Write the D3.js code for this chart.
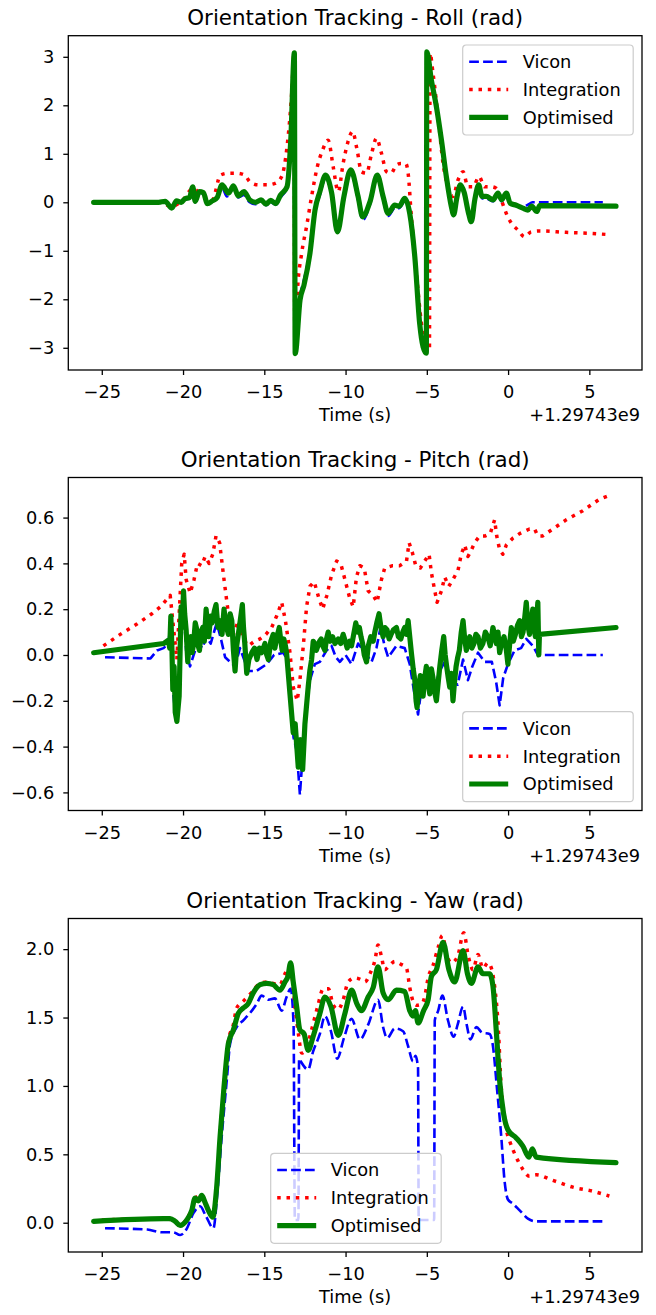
<!DOCTYPE html>
<html>
<head>
<meta charset="utf-8">
<script src="https://cdn.jsdelivr.net/npm/d3@7"></script>
<style>
  html, body { margin: 0; padding: 0; background: #ffffff; }
  svg { display: block; font-family: "DejaVu Sans", sans-serif; }
</style>
</head>
<body>
<script>
// ---- Data: [time offset (s), angle (rad)] ----
const seriesNames = ["Vicon", "Integration", "Optimised"];
const titles = [
  "Orientation Tracking - Roll (rad)",
  "Orientation Tracking - Pitch (rad)",
  "Orientation Tracking - Yaw (rad)"
];
const xLabel = "Time (s)";
const timeOffsetLabel = "+1.29743e9";

const xTicks = [-25, -20, -15, -10, -5, 0, 5];
const rollTicks = [-3, -2, -1, 0, 1, 2, 3];
const pitchTicks = [-0.6, -0.4, -0.2, 0.0, 0.2, 0.4, 0.6];
const yawTicks = [0.0, 0.5, 1.0, 1.5, 2.0];

const rollVicon = [[-24.9,0.0],[-21.8,0.0],[-21.4,0.02],[-21.0,0.0],[-20.7,-0.1],[-20.4,0.02],[-20.0,0.05],[-19.6,0.08],[-19.4,0.28],[-19.25,0.0],[-19.0,0.2],[-18.75,0.17],[-18.5,-0.04],[-18.2,0.02],[-17.9,0.08],[-17.6,0.3],[-17.3,0.12],[-16.9,0.28],[-16.6,0.1],[-16.25,0.15],[-15.9,0.0],[-15.55,-0.04],[-15.2,0.02],[-14.9,-0.06],[-14.6,0.0],[-14.3,-0.05],[-14.0,0.1],[-13.6,0.3],[-13.37,1.25],[-13.15,3.05],[-13.1,-3.1],[-12.8,-1.95],[-12.56,-1.6],[-12.19,-1.0],[-11.88,-0.2],[-11.58,0.15],[-11.23,0.5],[-10.86,0.15],[-10.5,-0.65],[-10.1,0.05],[-9.68,0.6],[-9.23,0.05],[-8.95,-0.37],[-8.5,-0.05],[-8.05,0.5],[-7.69,0.05],[-7.38,-0.28],[-6.97,-0.12],[-6.7,-0.12],[-6.36,0.02],[-6.05,-0.28],[-5.74,-1.15],[-5.44,-2.52],[-5.23,-3.0],[-5.03,-3.12],[-5.0,3.08],[-4.72,2.45],[-4.41,1.9],[-4.1,1.2],[-3.8,0.45],[-3.49,-0.12],[-3.35,-0.28],[-3.15,0.05],[-2.94,0.3],[-2.7,0.15],[-2.45,-0.22],[-2.26,-0.42],[-2.05,0.0],[-1.81,0.3],[-1.6,0.08],[-1.34,0.08],[-0.93,0.02],[-0.62,0.15],[-0.4,0.02],[-0.11,0.15],[0.13,-0.03],[0.5,-0.05],[0.91,-0.1],[1.22,-0.05],[1.5,0.0],[5.83,0.0]];

const rollIntegration = [[-25.0,0.0],[-21.5,0.0],[-20.7,-0.08],[-20.0,0.05],[-19.4,0.28],[-18.8,0.15],[-18.2,0.05],[-17.7,0.56],[-17.2,0.6],[-16.7,0.6],[-16.2,0.56],[-15.88,0.42],[-15.37,0.36],[-14.85,0.36],[-14.34,0.39],[-13.93,0.53],[-13.6,1.15],[-13.3,2.32],[-13.17,3.07],[-13.12,-3.1],[-12.97,-1.88],[-12.7,-1.05],[-12.4,-0.5],[-12.09,0.12],[-11.74,0.73],[-11.41,1.08],[-11.07,1.28],[-10.76,0.73],[-10.45,0.22],[-10.15,0.8],[-9.85,1.25],[-9.57,1.46],[-9.3,1.1],[-9.02,0.63],[-8.71,0.6],[-8.4,1.0],[-8.1,1.32],[-7.79,1.01],[-7.48,0.63],[-7.2,0.6],[-6.87,0.77],[-6.6,0.8],[-6.3,0.8],[-6.15,0.6],[-5.95,-0.3],[-5.64,-1.46],[-5.33,-2.5],[-5.03,-3.05],[-4.84,-3.08],[-4.8,3.07],[-4.62,2.66],[-4.31,1.77],[-4.0,0.8],[-3.7,0.32],[-3.39,0.12],[-3.08,0.46],[-2.77,0.63],[-2.47,0.32],[-2.15,0.32],[-1.79,0.53],[-1.44,0.32],[-1.05,0.32],[-0.73,0.29],[-0.42,0.05],[-0.11,-0.23],[0.2,-0.43],[0.6,-0.57],[1.01,-0.71],[1.42,-0.61],[1.94,-0.59],[3.57,-0.62],[5.0,-0.64],[6.34,-0.67]];

const rollOptimised = [[-25.5,0.0],[-21.5,0.0],[-21.1,0.02],[-20.7,-0.12],[-20.4,0.03],[-20.1,0.0],[-19.9,0.07],[-19.6,0.1],[-19.4,0.32],[-19.25,0.02],[-19.0,0.22],[-18.75,0.2],[-18.5,-0.03],[-18.2,0.03],[-17.9,0.1],[-17.6,0.36],[-17.2,0.19],[-16.9,0.34],[-16.6,0.13],[-16.25,0.22],[-15.9,0.05],[-15.55,0.0],[-15.2,0.05],[-14.9,-0.04],[-14.6,0.04],[-14.3,-0.03],[-14.0,0.15],[-13.6,0.32],[-13.37,1.29],[-13.15,3.08],[-13.1,-3.12],[-12.8,-2.01],[-12.56,-1.71],[-12.19,-1.05],[-11.88,-0.16],[-11.58,0.22],[-11.23,0.56],[-10.86,0.2],[-10.5,-0.61],[-10.1,0.12],[-9.68,0.67],[-9.23,0.12],[-8.95,-0.3],[-8.5,0.01],[-8.05,0.56],[-7.69,0.12],[-7.38,-0.23],[-6.97,-0.06],[-6.7,-0.08],[-6.36,0.08],[-6.05,-0.23],[-5.74,-1.12],[-5.44,-2.5],[-5.23,-2.98],[-5.03,-3.11],[-5.0,3.1],[-4.72,2.52],[-4.41,1.97],[-4.1,1.28],[-3.8,0.53],[-3.49,-0.09],[-3.35,-0.26],[-3.15,0.1],[-2.94,0.36],[-2.7,0.2],[-2.45,-0.2],[-2.26,-0.4],[-2.05,0.05],[-1.81,0.36],[-1.6,0.12],[-1.34,0.12],[-0.93,0.05],[-0.62,0.19],[-0.4,0.05],[-0.11,0.19],[0.13,-0.02],[0.5,-0.06],[0.91,-0.12],[1.22,-0.16],[1.45,-0.08],[1.77,-0.19],[1.94,-0.07],[6.64,-0.08]];

const pitchVicon = [[-24.8,-0.01],[-22.0,-0.015],[-21.6,0.02],[-21.2,0.03],[-20.9,0.05],[-20.75,0.15],[-20.63,-0.15],[-20.48,-0.25],[-20.38,-0.28],[-20.24,-0.15],[-20.12,0.18],[-19.97,0.22],[-19.81,0.02],[-19.57,-0.05],[-19.35,0.0],[-19.1,0.05],[-18.8,0.03],[-18.58,0.08],[-18.3,0.05],[-17.93,0.14],[-17.7,0.08],[-17.41,-0.01],[-17.1,-0.03],[-16.8,-0.05],[-16.5,0.03],[-15.98,-0.07],[-15.5,-0.07],[-14.85,-0.04],[-14.4,0.0],[-13.83,0.01],[-13.6,-0.02],[-13.4,-0.18],[-13.2,-0.36],[-13.0,-0.42],[-12.81,-0.61],[-12.65,-0.45],[-12.45,-0.25],[-12.19,-0.11],[-11.89,-0.04],[-11.58,-0.03],[-11.17,0.02],[-10.86,0.04],[-10.6,-0.01],[-10.35,-0.03],[-10.0,0.0],[-9.63,-0.04],[-9.23,0.05],[-8.9,0.02],[-8.4,-0.03],[-8.1,0.03],[-7.85,0.12],[-7.6,0.04],[-7.38,-0.01],[-6.87,0.04],[-6.36,0.03],[-6.05,-0.04],[-5.74,-0.18],[-5.54,-0.26],[-5.3,-0.13],[-4.92,-0.14],[-4.6,-0.16],[-4.21,-0.07],[-3.9,-0.03],[-3.39,-0.12],[-3.1,-0.13],[-2.77,-0.02],[-2.47,-0.11],[-2.2,-0.05],[-1.85,0.01],[-1.44,-0.03],[-1.0,-0.03],[-0.73,-0.12],[-0.52,-0.22],[-0.3,-0.1],[-0.01,-0.04],[0.4,0.02],[0.8,0.03],[1.12,0.07],[1.52,0.04],[1.83,0.0],[5.83,0.0]];

const pitchIntegration = [[-24.9,0.04],[-23.86,0.09],[-22.84,0.135],[-21.92,0.18],[-21.4,0.21],[-20.79,0.26],[-20.59,0.12],[-20.38,-0.02],[-20.08,0.4],[-19.93,0.44],[-19.81,0.33],[-19.56,0.27],[-19.32,0.33],[-19.11,0.4],[-18.85,0.39],[-18.64,0.43],[-18.4,0.4],[-18.17,0.44],[-17.97,0.52],[-17.75,0.49],[-17.48,0.33],[-17.21,0.18],[-16.9,0.09],[-16.6,0.15],[-16.3,0.07],[-15.98,0.04],[-15.6,0.06],[-15.26,0.07],[-14.9,0.09],[-14.55,0.12],[-14.24,0.17],[-13.93,0.23],[-13.7,0.15],[-13.42,0.01],[-13.22,-0.14],[-12.97,-0.2],[-12.81,-0.11],[-12.6,0.04],[-12.4,0.21],[-12.19,0.3],[-11.93,0.32],[-11.65,0.25],[-11.41,0.2],[-11.15,0.26],[-10.86,0.35],[-10.55,0.41],[-10.3,0.4],[-10.04,0.33],[-9.75,0.25],[-9.53,0.21],[-9.33,0.34],[-9.12,0.39],[-8.85,0.38],[-8.61,0.28],[-8.3,0.26],[-8.06,0.23],[-7.79,0.33],[-7.59,0.38],[-7.1,0.39],[-6.66,0.39],[-6.25,0.41],[-6.09,0.49],[-5.9,0.45],[-5.68,0.39],[-5.4,0.38],[-5.13,0.41],[-4.86,0.44],[-4.72,0.36],[-4.51,0.28],[-4.37,0.23],[-4.1,0.28],[-3.9,0.34],[-3.65,0.3],[-3.39,0.33],[-3.08,0.37],[-2.88,0.44],[-2.67,0.48],[-2.47,0.43],[-2.25,0.46],[-2.06,0.49],[-1.75,0.52],[-1.4,0.52],[-1.1,0.53],[-0.83,0.59],[-0.7,0.52],[-0.52,0.46],[-0.32,0.44],[-0.11,0.48],[0.29,0.51],[0.71,0.53],[1.32,0.55],[1.63,0.55],[1.83,0.52],[2.14,0.52],[2.75,0.55],[3.57,0.59],[4.6,0.63],[5.62,0.68],[6.34,0.7]];

const pitchOptimised = [[-25.5,0.01],[-21.2,0.05],[-20.9,0.065],[-20.82,0.03],[-20.75,0.17],[-20.68,0.02],[-20.63,-0.15],[-20.55,-0.05],[-20.48,-0.25],[-20.38,-0.29],[-20.24,-0.18],[-20.17,0.05],[-20.12,0.21],[-20.05,0.12],[-19.97,0.28],[-19.9,0.18],[-19.81,0.11],[-19.71,-0.03],[-19.62,0.06],[-19.52,0.08],[-19.44,0.01],[-19.35,0.05],[-19.25,0.14],[-19.15,0.11],[-19.07,0.04],[-18.99,0.02],[-18.89,0.1],[-18.79,0.12],[-18.69,0.06],[-18.58,0.2],[-18.5,0.13],[-18.42,0.08],[-18.3,0.17],[-18.2,0.14],[-18.08,0.19],[-17.97,0.22],[-17.85,0.12],[-17.72,0.15],[-17.6,0.09],[-17.48,0.2],[-17.35,0.13],[-17.21,0.09],[-17.1,0.18],[-17.0,0.15],[-16.9,0.02],[-16.8,-0.07],[-16.7,0.04],[-16.6,0.09],[-16.48,0.15],[-16.35,0.22],[-16.28,0.12],[-16.2,0.05],[-16.08,-0.08],[-15.95,-0.02],[-15.77,0.01],[-15.6,0.03],[-15.45,-0.02],[-15.3,0.03],[-15.16,0.01],[-14.96,0.05],[-14.85,0.0],[-14.75,-0.02],[-14.6,0.06],[-14.45,0.09],[-14.35,0.03],[-14.25,0.07],[-14.08,0.12],[-13.98,0.06],[-13.9,0.02],[-13.8,0.07],[-13.7,0.04],[-13.63,0.01],[-13.42,-0.17],[-13.22,-0.34],[-13.1,-0.3],[-13.01,-0.39],[-12.91,-0.49],[-12.84,-0.41],[-12.77,-0.37],[-12.7,-0.47],[-12.64,-0.5],[-12.57,-0.4],[-12.5,-0.3],[-12.3,-0.14],[-12.2,-0.07],[-12.09,-0.02],[-11.99,0.06],[-11.89,0.05],[-11.8,0.02],[-11.7,0.04],[-11.6,0.06],[-11.5,0.07],[-11.4,0.04],[-11.27,0.02],[-11.17,0.07],[-11.07,0.1],[-10.95,0.06],[-10.8,0.08],[-10.65,0.05],[-10.45,0.07],[-10.3,0.05],[-10.15,0.09],[-10.02,0.06],[-9.9,0.03],[-9.75,0.06],[-9.63,0.04],[-9.5,0.09],[-9.37,0.14],[-9.25,0.1],[-9.15,0.12],[-9.05,0.08],[-8.95,0.05],[-8.85,0.0],[-8.71,-0.03],[-8.6,0.04],[-8.45,0.08],[-8.3,0.06],[-8.2,0.1],[-8.08,0.14],[-7.94,0.18],[-7.82,0.12],[-7.69,0.08],[-7.58,0.12],[-7.45,0.11],[-7.32,0.07],[-7.2,0.09],[-7.05,0.11],[-6.87,0.12],[-6.75,0.08],[-6.6,0.07],[-6.48,0.1],[-6.36,0.12],[-6.25,0.09],[-6.15,0.15],[-6.05,0.08],[-5.95,0.01],[-5.84,-0.06],[-5.74,-0.11],[-5.66,-0.2],[-5.6,-0.23],[-5.5,-0.15],[-5.4,-0.09],[-5.32,-0.14],[-5.23,-0.18],[-5.13,-0.1],[-5.03,-0.05],[-4.92,-0.12],[-4.82,-0.17],[-4.72,-0.06],[-4.62,-0.1],[-4.52,-0.16],[-4.41,-0.2],[-4.3,-0.12],[-4.2,-0.05],[-4.08,0.02],[-3.96,0.08],[-3.87,0.0],[-3.78,-0.05],[-3.68,-0.1],[-3.59,-0.14],[-3.49,-0.08],[-3.39,-0.2],[-3.3,-0.12],[-3.2,-0.05],[-3.1,-0.01],[-3.0,0.02],[-2.88,0.1],[-2.77,0.15],[-2.67,0.07],[-2.57,0.02],[-2.47,0.05],[-2.36,0.08],[-2.23,0.03],[-2.1,0.05],[-1.98,0.09],[-1.85,0.08],[-1.7,0.03],[-1.55,0.05],[-1.4,0.1],[-1.25,0.08],[-1.1,0.04],[-0.93,0.12],[-0.82,0.08],[-0.72,0.05],[-0.62,0.1],[-0.52,0.01],[-0.4,0.05],[-0.25,0.08],[-0.12,0.03],[-0.01,-0.04],[0.1,0.05],[0.2,0.12],[0.32,0.06],[0.45,0.09],[0.58,0.13],[0.71,0.15],[0.82,0.08],[0.92,0.1],[1.02,0.16],[1.12,0.23],[1.22,0.13],[1.32,0.09],[1.42,0.15],[1.52,0.2],[1.6,0.12],[1.68,0.08],[1.76,0.16],[1.83,0.23],[1.89,0.0],[1.93,0.09],[6.64,0.12]];

const yawVicon = [[-24.8,-0.04],[-22.2,-0.05],[-21.3,-0.07],[-20.6,-0.07],[-20.18,-0.09],[-19.8,-0.05],[-19.36,0.07],[-18.95,0.12],[-18.6,0.05],[-18.13,-0.04],[-17.9,0.2],[-17.62,0.63],[-17.31,1.04],[-17.1,1.31],[-16.7,1.43],[-16.29,1.48],[-15.9,1.53],[-15.47,1.6],[-15.16,1.66],[-14.75,1.63],[-14.35,1.64],[-13.93,1.55],[-13.63,1.65],[-13.38,1.71],[-13.2,1.45],[-13.12,0.02],[-12.9,0.02],[-12.86,1.2],[-12.81,1.19],[-12.3,1.12],[-12.0,1.25],[-11.58,1.38],[-11.27,1.51],[-10.9,1.4],[-10.51,1.2],[-10.1,1.35],[-9.63,1.49],[-9.12,1.34],[-8.6,1.45],[-8.0,1.63],[-7.69,1.43],[-7.44,1.35],[-6.97,1.42],[-6.46,1.4],[-6.15,1.29],[-5.85,1.18],[-5.7,1.22],[-5.54,1.13],[-5.5,0.02],[-4.55,0.02],[-4.51,1.48],[-4.3,1.55],[-4.04,1.66],[-3.7,1.48],[-3.35,1.36],[-3.1,1.45],[-2.77,1.58],[-2.55,1.45],[-2.32,1.34],[-1.95,1.43],[-1.6,1.39],[-1.14,1.38],[-0.93,1.29],[-0.69,0.99],[-0.42,0.63],[-0.22,0.31],[-0.01,0.17],[0.29,0.14],[0.71,0.09],[1.22,0.03],[1.73,0.01],[5.83,0.01]];

const yawIntegration = [[-25.0,0.02],[-21.2,0.03],[-20.5,0.01],[-20.18,-0.02],[-19.77,0.03],[-19.46,0.1],[-19.26,0.18],[-18.85,0.2],[-18.44,0.09],[-18.17,0.05],[-17.93,0.27],[-17.72,0.65],[-17.48,1.0],[-17.21,1.33],[-16.9,1.45],[-16.7,1.57],[-16.29,1.62],[-15.8,1.68],[-15.26,1.75],[-14.85,1.76],[-14.45,1.75],[-14.04,1.74],[-13.73,1.82],[-13.5,1.86],[-13.3,1.8],[-13.11,1.58],[-12.9,1.38],[-12.7,1.24],[-12.4,1.28],[-12.09,1.41],[-11.74,1.57],[-11.37,1.71],[-11.05,1.71],[-10.76,1.59],[-10.45,1.56],[-10.15,1.63],[-9.84,1.76],[-9.43,1.79],[-9.1,1.78],[-8.81,1.76],[-8.5,1.82],[-8.19,1.92],[-8.0,2.03],[-7.8,1.95],[-7.59,1.85],[-7.3,1.88],[-6.97,1.91],[-6.6,1.89],[-6.25,1.86],[-6.05,1.72],[-5.85,1.62],[-5.64,1.59],[-5.3,1.6],[-5.1,1.67],[-4.92,1.79],[-4.62,1.88],[-4.31,2.01],[-4.04,2.1],[-3.8,1.97],[-3.49,1.9],[-3.1,1.95],[-2.73,2.12],[-2.45,1.95],[-2.16,1.85],[-1.85,1.96],[-1.55,1.86],[-1.24,1.9],[-1.0,1.85],[-0.83,1.73],[-0.63,1.48],[-0.42,0.99],[-0.25,0.8],[-0.11,0.68],[0.09,0.6],[0.5,0.48],[0.91,0.39],[1.32,0.34],[1.73,0.35],[2.75,0.31],[3.98,0.26],[5.21,0.23],[6.23,0.195]];

const yawOptimised = [[-25.5,0.01],[-21.2,0.03],[-20.8,0.03],[-20.48,0.01],[-20.18,-0.02],[-19.77,0.02],[-19.46,0.09],[-19.26,0.18],[-19.05,0.16],[-18.85,0.2],[-18.65,0.15],[-18.44,0.09],[-18.17,0.04],[-17.93,0.26],[-17.72,0.63],[-17.48,0.99],[-17.21,1.31],[-16.9,1.41],[-16.6,1.53],[-16.29,1.57],[-16.0,1.6],[-15.68,1.68],[-15.26,1.74],[-14.85,1.75],[-14.45,1.74],[-14.04,1.7],[-13.73,1.76],[-13.55,1.8],[-13.38,1.9],[-13.22,1.76],[-13.01,1.58],[-12.81,1.41],[-12.55,1.38],[-12.3,1.26],[-12.0,1.36],[-11.58,1.53],[-11.27,1.65],[-10.9,1.58],[-10.45,1.37],[-10.04,1.53],[-9.63,1.7],[-9.3,1.6],[-9.02,1.55],[-8.61,1.65],[-8.3,1.72],[-8.0,1.87],[-7.69,1.68],[-7.38,1.63],[-6.87,1.7],[-6.36,1.69],[-6.05,1.55],[-5.85,1.51],[-5.7,1.55],[-5.54,1.46],[-5.2,1.55],[-4.92,1.63],[-4.72,1.8],[-4.41,1.85],[-4.0,2.05],[-3.64,1.85],[-3.29,1.76],[-2.77,1.99],[-2.5,1.82],[-2.26,1.75],[-1.85,1.87],[-1.55,1.82],[-1.14,1.82],[-0.93,1.73],[-0.73,1.41],[-0.52,1.04],[-0.28,0.8],[-0.01,0.68],[0.5,0.62],[0.91,0.56],[1.28,0.48],[1.49,0.54],[1.73,0.48],[6.64,0.44]];

// ---- Layout & style ----
const W = 656, H = 1315;
const plotLeft = 68.3, plotRight = 642;
const xDomain = [-27.06, 8.24];
const tickFont = 17.8, titleFont = 21.4;

const styles = [
  { color: "#0000ff", width: 2.6, dash: "9.7,4.2", cap: "butt" },
  { color: "#ff0000", width: 3.5, dash: "3.5,5.8", cap: "butt" },
  { color: "#008000", width: 5.2, dash: null, cap: "round" }
];

const panels = [
  { title: titles[0], top: 35.7, bottom: 370, yDomain: [-3.458, 3.435], ticks: rollTicks, fmt: d3.format("d"),
    series: [rollVicon, rollIntegration, rollOptimised], curve: d3.curveMonotoneX, legend: { x: 462.7, y: 45 } },
  { title: titles[1], top: 477.5, bottom: 810.5, yDomain: [-0.679, 0.775], ticks: pitchTicks, fmt: d3.format(".1f"),
    series: [pitchVicon, pitchIntegration, pitchOptimised], curve: d3.curveLinear, legend: { x: 462.7, y: 711.7 } },
  { title: titles[2], top: 918.5, bottom: 1252, yDomain: [-0.214, 2.224], ticks: yawTicks, fmt: d3.format(".1f"),
    series: [yawVicon, yawIntegration, yawOptimised], curve: d3.curveMonotoneX, legend: { x: 270.7, y: 1153.3 } }
];

const svg = d3.select("body").append("svg")
  .attr("width", W).attr("height", H)
  .attr("viewBox", `0 0 ${W} ${H}`);

svg.append("rect").attr("width", W).attr("height", H).attr("fill", "#ffffff");

const x = d3.scaleLinear().domain(xDomain).range([plotLeft, plotRight]);

panels.forEach((p, i) => {
  const y = d3.scaleLinear().domain(p.yDomain).range([p.bottom, p.top]);
  const g = svg.append("g");

  const clipId = "clip" + i;
  svg.append("clipPath").attr("id", clipId)
    .append("rect")
    .attr("x", plotLeft).attr("y", p.top)
    .attr("width", plotRight - plotLeft).attr("height", p.bottom - p.top);

  // series lines
  const line = d3.line().x(d => x(d[0])).y(d => y(d[1])).curve(p.curve);
  const lines = g.append("g").attr("clip-path", `url(#${clipId})`);
  p.series.forEach((data, k) => {
    const s = styles[k];
    lines.append("path")
      .datum(data)
      .attr("d", line)
      .attr("fill", "none")
      .attr("stroke", s.color)
      .attr("stroke-width", s.width)
      .attr("stroke-linejoin", "round")
      .attr("stroke-linecap", s.cap)
      .attr("stroke-dasharray", s.dash);
  });

  // axes
  const xAxis = d3.axisBottom(x).tickValues(xTicks).tickFormat(d3.format("d"))
    .tickSize(5).tickPadding(10.5).tickSizeOuter(0);
  const yAxis = d3.axisLeft(y).tickValues(p.ticks).tickFormat(p.fmt)
    .tickSize(5).tickPadding(9).tickSizeOuter(0);

  const gx = g.append("g").attr("transform", `translate(0,${p.bottom})`).call(xAxis);
  const gy = g.append("g").attr("transform", `translate(${plotLeft},0)`).call(yAxis);
  [gx, gy].forEach(a => {
    a.select(".domain").remove();
    a.selectAll(".tick line").attr("stroke", "#000").attr("stroke-width", 1.3);
    a.selectAll(".tick text").attr("fill", "#000")
      .style("font-family", "'DejaVu Sans', sans-serif").style("font-size", tickFont + "px");
  });

  // frame
  g.append("rect")
    .attr("x", plotLeft).attr("y", p.top)
    .attr("width", plotRight - plotLeft).attr("height", p.bottom - p.top)
    .attr("fill", "none").attr("stroke", "#000").attr("stroke-width", 1.3);

  // title
  g.append("text")
    .attr("x", (plotLeft + plotRight) / 2).attr("y", p.top - 11)
    .attr("text-anchor", "middle")
    .style("font-size", titleFont + "px")
    .attr("fill", "#000")
    .text(p.title);

  // x label and offset
  g.append("text")
    .attr("x", (plotLeft + plotRight) / 2).attr("y", p.bottom + 51)
    .attr("text-anchor", "middle")
    .style("font-size", tickFont + "px").attr("fill", "#000")
    .text(xLabel);
  g.append("text")
    .attr("x", plotRight - 2).attr("y", p.bottom + 51)
    .attr("text-anchor", "end")
    .style("font-size", tickFont + "px").attr("fill", "#000")
    .text(timeOffsetLabel);

  // legend
  const lg = g.append("g").attr("transform", `translate(${p.legend.x},${p.legend.y})`);
  lg.append("rect")
    .attr("width", 170.5).attr("height", 90)
    .attr("rx", 3.5).attr("ry", 3.5)
    .attr("fill", "#ffffff").attr("fill-opacity", 0.8)
    .attr("stroke", "#cccccc").attr("stroke-width", 1.2);
  seriesNames.forEach((name, k) => {
    const s = styles[k];
    const cy = 16.7 + k * 27.8;
    lg.append("line")
      .attr("x1", 6.5).attr("x2", 45.5).attr("y1", cy).attr("y2", cy)
      .attr("stroke", s.color).attr("stroke-width", s.width)
      .attr("stroke-linecap", k === 2 ? "butt" : s.cap)
      .attr("stroke-dasharray", s.dash);
    lg.append("text")
      .attr("x", 60).attr("y", cy).attr("dy", "0.36em")
      .style("font-size", tickFont + "px").attr("fill", "#000")
      .text(name);
  });
});
</script>
</body>
</html>
